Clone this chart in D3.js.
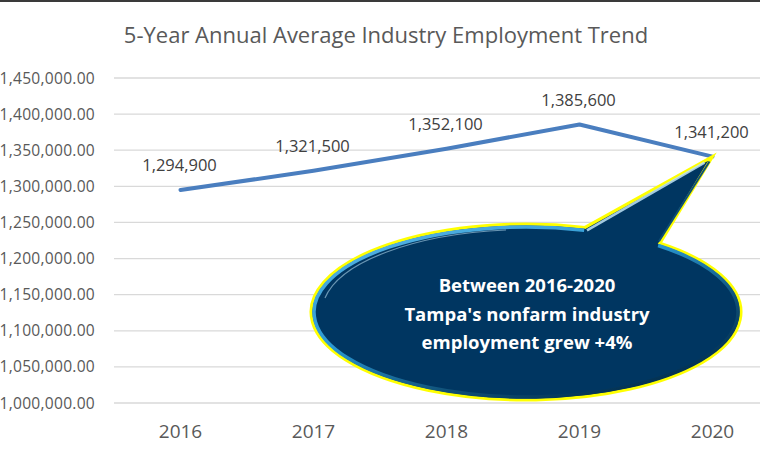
<!DOCTYPE html>
<html lang="en">
<head>
<meta charset="UTF-8">
<title>5-Year Annual Average Industry Employment Trend</title>
<script src="https://d3js.org/d3.v7.min.js"></script>
<style>
    body { margin: 0; background: #fff; }
    svg { display: block; font-family: "Open Sans", Calibri, sans-serif; }
</style>
</head>
<body>
<svg id="chart" width="760" height="452"></svg>
<script>
// chart data
var years = ["2016", "2017", "2018", "2019", "2020"];
var employment = [1294900, 1321500, 1352100, 1385600, 1341200];
var yTicks = [1000000, 1050000, 1100000, 1150000, 1200000, 1250000, 1300000, 1350000, 1400000, 1450000];
var calloutLines = ["Between 2016-2020", "Tampa's nonfarm industry", "employment grew +4%"];

var svg = d3.select("#chart");
var W = 760, H = 452;

var x = d3.scaleBand().domain(years).range([114, 779]);
var y = d3.scaleLinear().domain([1000000, 1450000]).range([403, 78]);

// top border
svg.append("line")
    .attr("x1", 0).attr("x2", W).attr("y1", 1).attr("y2", 1)
    .style("stroke", "#3a3a3a").style("stroke-width", 2);

// title
svg.append("text")
    .attr("x", 386).attr("y", 43)
    .style("text-anchor", "middle")
    .style("font-size", "22px")
    .style("fill", "#595959")
    .text("5-Year Annual Average Industry Employment Trend");

// gridlines
svg.append("g")
    .selectAll("line")
    .data(yTicks)
    .enter().append("line")
    .attr("x1", 114).attr("x2", W)
    .attr("y1", function (d) { return y(d); })
    .attr("y2", function (d) { return y(d); })
    .style("stroke", "#d9d9d9")
    .style("stroke-width", 1.3);

// y axis labels
var yAxis = svg.append("g").attr("transform", "translate(100,0)")
    .call(d3.axisLeft(y).tickValues(yTicks).tickSize(0).tickPadding(5)
        .tickFormat(function (d) { return d3.format(",.2f")(d); }));
yAxis.select(".domain").remove();
yAxis.selectAll("text")
    .style("font-family", "'Open Sans', sans-serif")
    .style("font-size", "15.6px")
    .style("letter-spacing", "0.25px")
    .style("fill", "#595959");

// x axis labels
var xAxis = svg.append("g").attr("transform", "translate(0,424)")
    .call(d3.axisBottom(x).tickSize(0).tickPadding(0));
xAxis.select(".domain").remove();
xAxis.selectAll("text")
    .attr("dy", "0.71em")
    .style("font-family", "'Open Sans', sans-serif")
    .style("font-size", "19px")
    .style("fill", "#595959");

// line
var line = d3.line()
    .x(function (d, i) { return x(years[i]) + x.bandwidth() / 2; })
    .y(function (d) { return y(d); });

svg.append("path")
    .datum(employment)
    .attr("d", line)
    .style("fill", "none")
    .style("stroke", "#4a7ebf")
    .style("stroke-width", 4)
    .style("stroke-linejoin", "round")
    .style("stroke-linecap", "round");

// data labels
svg.append("g")
    .selectAll("text")
    .data(employment)
    .enter().append("text")
    .attr("x", function (d, i) { return x(years[i]) + x.bandwidth() / 2 - 1; })
    .attr("y", function (d) { return y(d) - 19; })
    .style("text-anchor", "middle")
    .style("font-size", "16.5px")
    .style("fill", "#404040")
    .text(function (d) { return d3.format(",")(d); });

// callout bubble
var tipX = x("2020") + x.bandwidth() / 2;
var tipY = y(employment[4]);
var cx = 526, cy = 312, rx = 215, ry = 88;

var defs = svg.append("defs");
var rim = defs.append("linearGradient").attr("id", "rimGrad")
    .attr("x1", "0%").attr("y1", "0%").attr("x2", "80%").attr("y2", "100%");
rim.append("stop").attr("offset", "0%").attr("stop-color", "#5fb8e8");
rim.append("stop").attr("offset", "45%").attr("stop-color", "#2a98d2");
rim.append("stop").attr("offset", "75%").attr("stop-color", "#0f4f75");
rim.append("stop").attr("offset", "100%").attr("stop-color", "#002a4a");

// where the tail leaves the ellipse
function angleAt(px) {
    return Math.acos((px - cx) / rx);
}
var a1 = angleAt(585), a2 = angleAt(660);
var p1 = [cx + rx * Math.cos(a1), cy - ry * Math.sin(a1)];
var p2 = [cx + rx * Math.cos(a2), cy - ry * Math.sin(a2)];

var bubblePath = "M" + p2[0] + "," + p2[1] +
    " A" + rx + "," + ry + " 0 1 1 " + p1[0] + "," + p1[1] +
    " L" + tipX + "," + tipY + " Z";

svg.append("path")
    .attr("d", bubblePath)
    .style("fill", "#003661")
    .style("stroke", "#ffff00")
    .style("stroke-width", 3)
    .style("stroke-linejoin", "miter");

// inner bevel rim (ellipse part only)
var irx = rx - 3, iry = ry - 3;
var q1 = [cx + irx * Math.cos(a1), cy - iry * Math.sin(a1)];
var q2 = [cx + irx * Math.cos(a2), cy - iry * Math.sin(a2)];
svg.append("path")
    .attr("d", "M" + q2[0] + "," + q2[1] +
        " A" + irx + "," + iry + " 0 1 1 " + q1[0] + "," + q1[1])
    .style("fill", "none")
    .style("stroke", "url(#rimGrad)")
    .style("stroke-width", 3.5);

// highlight along the top of the bubble and the tail
svg.append("path")
    .attr("d", "M" + (cx - rx + 14) + "," + (cy - 14) +
        " A" + (rx - 8) + "," + (ry - 6) + " 0 0 1 " + (cx - 20) + "," + (cy - ry + 6))
    .style("fill", "none")
    .style("stroke", "#bfe3f6")
    .style("stroke-width", 1.2)
    .style("opacity", 0.55);

svg.append("line")
    .attr("x1", p1[0] + 2).attr("y1", p1[1] + 3)
    .attr("x2", tipX - 8).attr("y2", tipY + 6)
    .style("stroke", "#bfe3f6")
    .style("stroke-width", 2.5)
    .style("opacity", 0.85);

svg.append("line")
    .attr("x1", p2[0] - 1).attr("y1", p2[1] - 2)
    .attr("x2", tipX - 3).attr("y2", tipY + 5)
    .style("stroke", "#0f4f75")
    .style("stroke-width", 2);

svg.append("g")
    .selectAll("text")
    .data(calloutLines)
    .enter().append("text")
    .attr("x", cx + 1)
    .attr("y", function (d, i) { return 292 + i * 28.5; })
    .style("text-anchor", "middle")
    .style("font-size", "18.5px")
    .style("font-weight", "bold")
    .style("fill", "#ffffff")
    .text(function (d) { return d; });
</script>
</body>
</html>
